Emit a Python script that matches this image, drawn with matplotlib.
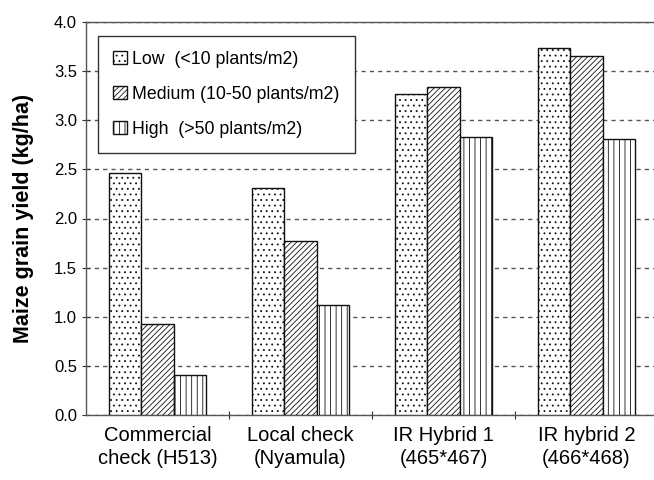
import numpy as np
import matplotlib
matplotlib.use("Agg")
import matplotlib.pyplot as plt

plt.rcParams['font.family'] = ['Liberation Sans', 'DejaVu Sans']
plt.rcParams['hatch.linewidth'] = 0.6

# data
groups = ['Commercial\ncheck (H513)', 'Local check\n(Nyamula)', 'IR Hybrid 1\n(465*467)', 'IR hybrid 2\n(466*468)']
series = ['Low  (<10 plants/m2)', 'Medium (10-50 plants/m2)', 'High  (>50 plants/m2)']
low = [2.46, 2.31, 3.27, 3.74]
medium = [0.93, 1.77, 3.34, 3.65]
high = [0.41, 1.12, 2.83, 2.81]

fig = plt.figure(figsize=(6.54, 4.8), dpi=100)
ax = fig.add_axes([86/654, 65/480, 572/654, 393/480])

ind = np.arange(len(groups))
width = 0.224
hatches = ['...', '//////', '|||']
vals = [low, medium, high]
for i in range(3):
	ax.bar(ind + (i-1)*width, vals[i], width, color='white', edgecolor='#111111',
		hatch=hatches[i], linewidth=1.0, label=series[i], zorder=3)

ax.set_xlim(-0.5, 3.5)
ax.set_ylim(0, 4.0)
ax.set_yticks(np.arange(0, 4.01, 0.5))
ax.set_yticklabels(['%.1f' % v for v in np.arange(0, 4.01, 0.5)], fontsize=12)
ax.yaxis.grid(True, linestyle=(0, (3, 3)), color='#555555', linewidth=1.0, zorder=0)

# group boundaries as ticks, names centered under groups
ax.set_xticks(ind[:-1] + 0.5)
ax.set_xticklabels([])
ax.set_xticks(ind, minor=True)
ax.set_xticklabels(groups, minor=True, fontsize=14.5, linespacing=1.25)
ax.tick_params(axis='x', which='minor', length=0, pad=8)
ax.tick_params(axis='x', which='major', length=6, direction='inout', color='#333333')
ax.tick_params(axis='y', length=6, direction='inout', color='#333333')

for s in ax.spines.values():
	s.set_color('#555555')
	s.set_linewidth(1.0)

ax.set_ylabel('Maize grain yield (kg/ha)', fontsize=15.5, fontweight='bold', labelpad=14)

leg = ax.legend(loc='upper left', bbox_to_anchor=(0.006, 0.987), fontsize=12.8,
	fancybox=False, framealpha=1, edgecolor='#333333', handlelength=0.75,
	handleheight=0.75, handletextpad=0.3, labelspacing=1.0, borderpad=0.85)
leg.get_frame().set_linewidth(1.0)

fig.savefig('out.png', dpi=100)
